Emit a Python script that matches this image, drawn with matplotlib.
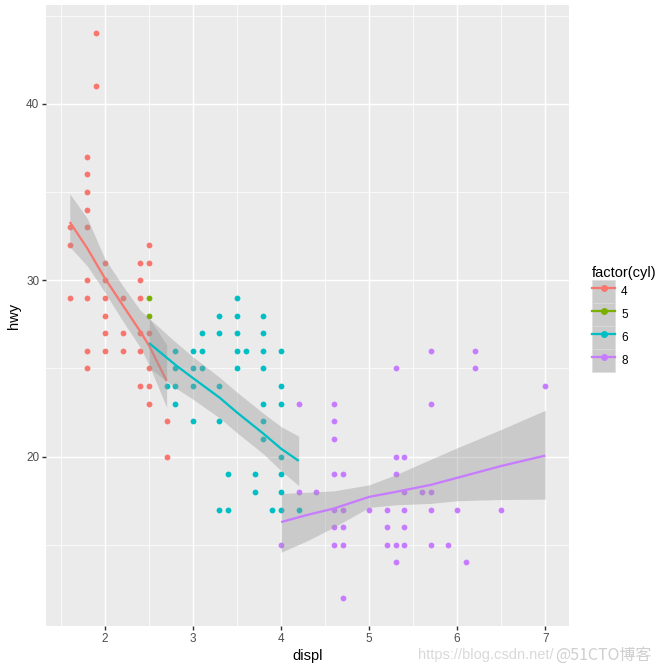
import matplotlib
matplotlib.use('Agg')
import matplotlib.pyplot as plt
from matplotlib.lines import Line2D
from matplotlib.patches import Patch
from matplotlib.legend_handler import HandlerTuple

plt.rcParams['font.family'] = ['Liberation Sans', 'DejaVu Sans']

# points (displ, hwy) by number of cylinders
cyl4_displ = [1.9, 1.9, 1.8, 1.8, 1.8, 1.8, 1.8, 1.6, 1.6, 2.5, 2.0, 2.4, 2.5, 1.8, 2.0, 2.4,
              1.6, 1.8, 2.0, 2.2, 2.4, 2.0, 2.0, 2.2, 2.4, 2.5, 1.8, 2.0, 2.2, 2.4, 1.8, 2.5,
              2.4, 2.5, 2.5, 2.7, 2.7]
cyl4_hwy = [44, 41, 37, 36, 35, 34, 33, 33, 32, 32, 31, 31, 31, 30, 30, 30,
            29, 29, 29, 29, 29, 28, 27, 27, 27, 27, 26, 26, 26, 26, 25, 25,
            24, 24, 23, 22, 20]

cyl5_displ = [2.5, 2.5]
cyl5_hwy = [29, 28]

cyl6_displ = [3.5, 3.3, 3.5, 3.8, 3.1, 3.3, 3.5, 3.8, 2.8, 3.0, 3.1, 3.5, 3.6, 3.8, 4.0,
              2.8, 3.0, 3.1, 3.5, 3.8, 2.7, 2.8, 3.0, 3.3, 4.0, 2.8, 3.8, 4.0, 3.0, 3.3, 3.8,
              3.8, 4.0, 3.4, 3.7, 4.0, 3.7, 4.0, 3.3, 3.4, 3.9, 4.0, 4.2]
cyl6_hwy = [29, 28, 28, 28, 27, 27, 27, 27, 26, 26, 26, 26, 26, 26, 26,
            25, 25, 25, 25, 25, 24, 24, 24, 24, 24, 23, 23, 23, 22, 22, 22,
            21, 20, 19, 19, 19, 18, 18, 17, 17, 17, 17, 17]

cyl8_displ = [5.7, 6.2, 5.3, 6.2, 7.0, 4.2, 4.6, 5.7, 4.6, 4.6, 5.3, 5.4, 4.6, 4.7, 5.3,
              4.2, 4.4, 5.4, 5.6, 5.7, 4.6, 4.7, 5.0, 5.2, 5.4, 5.7, 6.0, 6.5,
              4.6, 4.7, 5.2, 5.4, 4.0, 4.6, 4.7, 5.2, 5.3, 5.4, 5.7, 5.9, 5.3, 6.1, 4.7]
cyl8_hwy = [26, 26, 25, 25, 24, 23, 23, 23, 22, 21, 20, 20, 19, 19, 19,
            18, 18, 18, 18, 18, 17, 17, 17, 17, 17, 17, 17, 17,
            16, 16, 16, 16, 15, 15, 15, 15, 15, 15, 15, 15, 14, 14, 12]

# loess fits and confidence bands
fit4_x = [1.6, 1.8, 2.0, 2.2, 2.4, 2.5, 2.7]
fit4_y = [33.3, 31.8, 30.1, 28.6, 27.1, 26.3, 24.3]
fit4_lo = [31.9, 30.8, 29.3, 27.7, 26.2, 25.2, 22.8]
fit4_hi = [34.9, 33.5, 31.2, 29.7, 28.3, 27.85, 26.35]

fit6_x = [2.5, 2.8, 3.0, 3.3, 3.5, 3.8, 4.0, 4.2]
fit6_y = [26.44, 25.2, 24.45, 23.35, 22.5, 21.3, 20.45, 19.76]
fit6_lo = [25.04, 23.9, 23.25, 22.2, 21.35, 20.15, 19.2, 18.36]
fit6_hi = [27.84, 26.5, 25.65, 24.5, 23.65, 22.45, 21.7, 21.16]

fit8_x = [4.0, 4.3, 4.6, 5.0, 5.3, 5.7, 6.0, 6.5, 7.0]
fit8_y = [16.29, 16.7, 17.06, 17.72, 18.0, 18.4, 18.8, 19.47, 20.06]
fit8_lo = [14.58, 15.24, 16.0, 17.12, 17.27, 17.35, 17.5, 17.57, 17.59]
fit8_hi = [17.91, 17.98, 18.06, 18.4, 18.97, 19.85, 20.5, 21.54, 22.63]

levels = ['4', '5', '6', '8']
colors = ['#F8766D', '#7CAE00', '#00BFC4', '#C77CFF']

fig = plt.figure(figsize=(7, 7), dpi=96)
ax = fig.add_axes([46 / 672, 1 - 626 / 672, 523 / 672, 621 / 672])
ax.set_facecolor('#EBEBEB')

# points first, then each group's ribbon + line on top
groups = [(cyl4_displ, cyl4_hwy), (cyl5_displ, cyl5_hwy), (cyl6_displ, cyl6_hwy), (cyl8_displ, cyl8_hwy)]
for (gx, gy), c in zip(groups, colors):
    ax.scatter(gx, gy, s=19, color=c, linewidths=0, zorder=2)

fits = [(fit4_x, fit4_y, fit4_lo, fit4_hi, colors[0]),
        (fit6_x, fit6_y, fit6_lo, fit6_hi, colors[2]),
        (fit8_x, fit8_y, fit8_lo, fit8_hi, colors[3])]
z = 3
for fx, fy, lo, hi, c in fits:
    ax.fill_between(fx, lo, hi, color='#999999', alpha=0.4, linewidth=0, zorder=z)
    ax.plot(fx, fy, color=c, lw=1.7, zorder=z + 1, solid_capstyle='butt')
    z += 2

ax.set_xlim(1.33, 7.27)
ax.set_ylim(10.4, 45.6)
ax.set_xticks([2, 3, 4, 5, 6, 7])
ax.set_xticks([1.5, 2.5, 3.5, 4.5, 5.5, 6.5], minor=True)
ax.set_yticks([20, 30, 40])
ax.set_yticks([15, 25, 35, 45], minor=True)
ax.grid(which='major', color='white', lw=1.07, zorder=0)
ax.grid(which='minor', color='white', lw=0.53, zorder=0)
ax.set_axisbelow(True)
for s in ax.spines.values():
    s.set_visible(False)
ax.tick_params(which='major', length=2.75, width=1.07, color='#333333',
               labelsize=8.8, labelcolor='#4D4D4D', pad=2.2)
ax.tick_params(which='minor', length=0)
ax.set_xlabel('displ', fontsize=11, labelpad=3)
ax.set_ylabel('hwy', fontsize=11, labelpad=4)

handles = [(Patch(facecolor='#CBCBCB', edgecolor='#DCDCDC', linewidth=0.4),
            Line2D([], [], color=c, lw=1.7, marker='o', markersize=4.2))
           for c in colors]
leg = fig.legend(handles, levels, title='factor(cyl)', loc='center left',
                 bbox_to_anchor=(584 / 672, 1 - 319 / 672), frameon=False,
                 fontsize=8.8, title_fontsize=11, handlelength=1.96, handleheight=2.64,
                 labelspacing=0.0, handletextpad=0.5, numpoints=1, borderpad=0.2,
                 handler_map={tuple: HandlerTuple(ndivide=1, pad=0)},
                 alignment='left')

# watermark text in the bottom-right corner
fig.text(418 / 672, 1 - 655 / 672, 'https://blog.csdn.net/', fontsize=11, color='#D9D9D9',
         va='center', ha='left')
fig.text(555 / 672, 1 - 655 / 672, '@51CTO博客', fontsize=12, color='#CFCFCF',
         va='center', ha='left', family=['Noto Sans CJK SC', 'DejaVu Sans'])

fig.savefig('out.png', dpi=96)
